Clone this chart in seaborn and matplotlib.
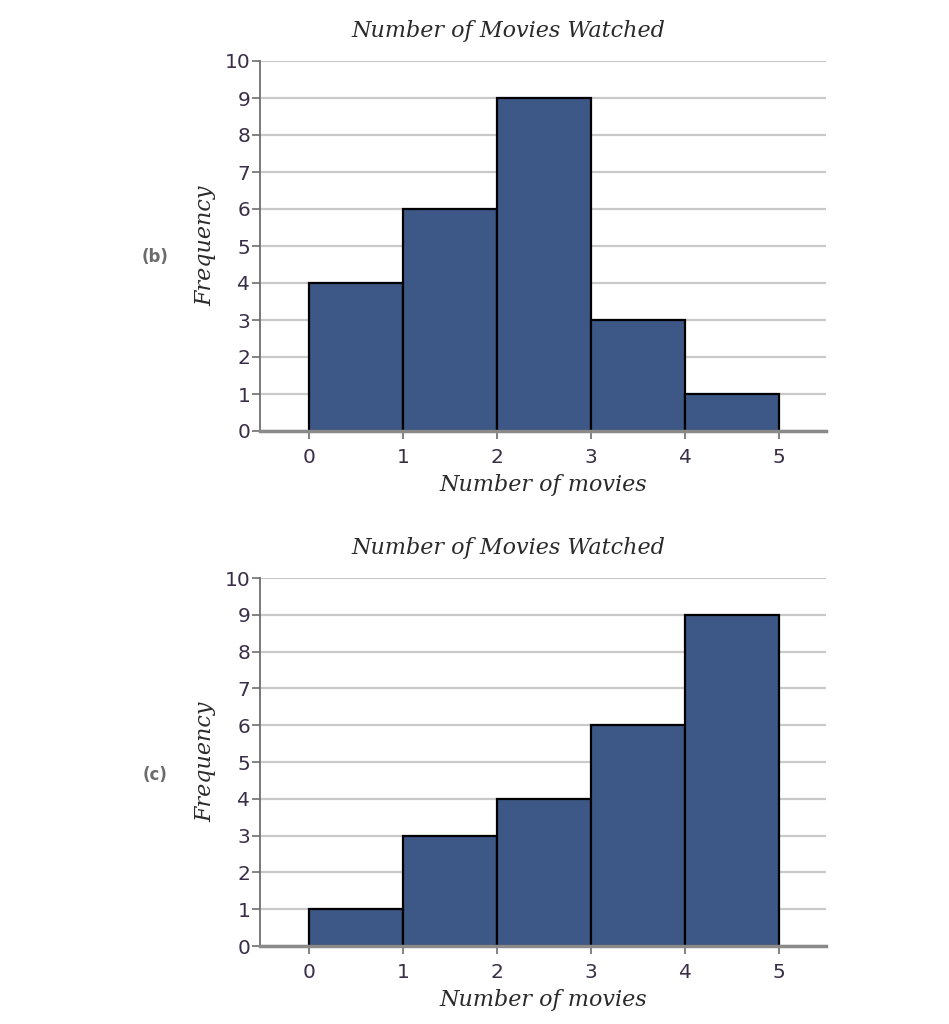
import matplotlib
matplotlib.use("Agg")
import matplotlib.pyplot as plt
import seaborn as sns
import numpy as np

# data
bin_edges = [0, 1, 2, 3, 4, 5]
movies = [0, 1, 2, 3, 4]
freq_b = [4, 6, 9, 3, 1]
freq_c = [1, 3, 4, 6, 9]
panel_labels = ["(b)", "(c)"]
title = "Number of Movies Watched"
xlab = "Number of movies"
ylab = "Frequency"

sns.set_style("white")
bar_color = "#3d5886"
tick_color = "#3a2d48"
serif = ["DejaVu Serif"]

fig = plt.figure(figsize=(9.49, 10.24), dpi=100)

# axes boxes in figure fractions (left, bottom, width, height)
boxes = [
    (260 / 949, 1 - 431 / 1024, 566 / 949, 370 / 1024),
    (260 / 949, 1 - 946 / 1024, 566 / 949, 368 / 1024),
]
title_y = [1 - 31 / 1024, 1 - 548 / 1024]
label_y = [1 - 257 / 1024, 1 - 775 / 1024]

for box, counts, lab, ty, ly in zip(boxes, [freq_b, freq_c], panel_labels, title_y, label_y):
    ax = fig.add_axes(box)
    sns.histplot(x=movies, weights=counts, bins=bin_edges, ax=ax,
                 color=bar_color, alpha=1, edgecolor="black", linewidth=1.6, zorder=3)
    ax.set_xlim(-0.52, 5.5)
    ax.set_ylim(0, 10)
    ax.set_yticks(range(0, 11))
    ax.set_xticks(range(0, 6))
    ax.yaxis.grid(True, color="#c9c9c9", linewidth=1.6, zorder=0)
    ax.set_axisbelow(True)
    for s in ["top", "right"]:
        ax.spines[s].set_visible(False)
    ax.spines["left"].set_color("#6e6e6e")
    ax.spines["left"].set_linewidth(1.3)
    ax.spines["bottom"].set_color("#8a8a8a")
    ax.spines["bottom"].set_linewidth(2.5)
    ax.spines["bottom"].set_zorder(4)
    ax.tick_params(axis="both", which="both", direction="out", length=6, width=1.2,
                   color="#6e6e6e", labelsize=14.5, labelcolor=tick_color,
                   left=True, bottom=True)
    ax.tick_params(axis="y", pad=1)
    ax.tick_params(axis="x", pad=6)
    ax.set_xlabel(xlab, fontsize=16, style="italic", family=serif, color="#2a2a2a", labelpad=5)
    ax.set_ylabel(ylab, fontsize=16, style="italic", family=serif, color="#2a2a2a", labelpad=6)
    fig.text(508 / 949, ty, title, ha="center", va="center", fontsize=16,
             style="italic", family=serif, color="#2a2a2a")
    fig.text(155 / 949, ly, lab, ha="center", va="center", fontsize=12,
             fontweight="bold", color="#6b6b6b")

fig.savefig("out.png", dpi=100)
